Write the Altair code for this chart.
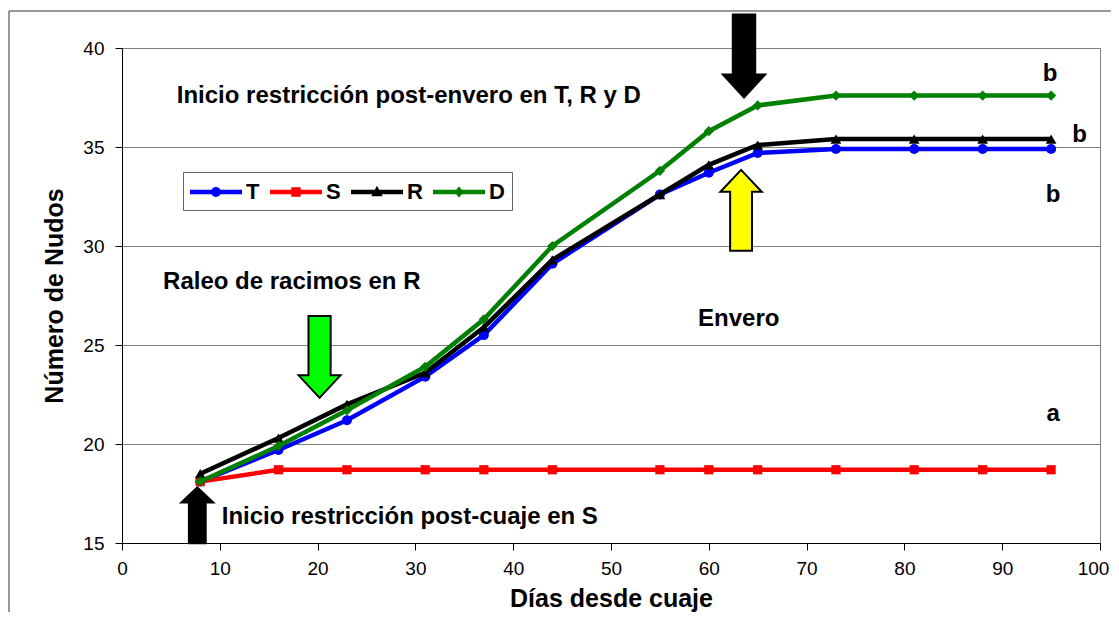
import altair as alt
import pandas as pd

# ---------------- data ----------------
dias = [8, 16, 23, 31, 37, 44, 55, 60, 65, 73, 81, 88, 95]
serie_T = [18.1, 19.7, 21.2, 23.4, 25.5, 29.1, 32.6, 33.7, 34.7, 34.9, 34.9, 34.9, 34.9]
serie_S = [18.1, 18.7, 18.7, 18.7, 18.7, 18.7, 18.7, 18.7, 18.7, 18.7, 18.7, 18.7, 18.7]
serie_R = [18.5, 20.3, 22.0, 23.6, 25.9, 29.3, 32.6, 34.1, 35.1, 35.4, 35.4, 35.4, 35.4]
serie_D = [18.1, 19.9, 21.7, 23.9, 26.3, 30.0, 33.8, 35.8, 37.1, 37.6, 37.6, 37.6, 37.6]

nombres = ["T", "S", "R", "D"]
valores = [serie_T, serie_S, serie_R, serie_D]
colores = ["#0000FF", "#FF0000", "#000000", "#008000"]

# annotations (data coordinates)
ann_text = ["Inicio restricción post-envero en T, R y D", "Raleo de racimos en R",
            "Envero", "Inicio restricción post-cuaje en S"]
ann_x = [5.6, 4.2, 58.9, 10.2]
ann_y = [37.6, 28.2, 26.3, 16.3]

letras = ["b", "b", "b", "a"]
letras_x = [94.9, 97.9, 95.2, 95.2]
letras_y = [38.7, 35.6, 32.6, 21.5]

flecha_x = [63.6, 63.3, 20.2, 7.7]
flecha_y = [39.6, 31.8, 24.4, 16.4]

# ---------------- build ----------------
FONT = "Liberation Sans"
rows = []
for n, vals in zip(nombres, valores):
    for d, v in zip(dias, vals):
        rows.append({"dias": d, "valor": v, "serie": n})
df = pd.DataFrame(rows)

xscale = alt.Scale(domain=[0, 100], nice=False, zero=False)
yscale = alt.Scale(domain=[15, 40], nice=False, zero=False)
xaxis = alt.Axis(title="Días desde cuaje", values=list(range(0, 101, 10)), grid=False,
                 tickSize=7, tickColor="black", domainColor="black", labelFontSize=19,
                 labelPadding=9, titleFontSize=25, titleFontWeight="bold", titlePadding=8,
                 labelFlush=False,
                 labelOffset={"condition": {"test": "datum.value == 100", "value": -7}, "value": 0},
                 labelFont=FONT, titleFont=FONT, labelColor="black", titleColor="black")
yaxis = alt.Axis(title="Número de Nudos", values=list(range(15, 41, 5)), grid=True,
                 gridColor="#808080", gridWidth=1, tickSize=7, tickColor="black",
                 domainColor="black", labelFontSize=19, labelPadding=11, titleFontSize=25,
                 titleFontWeight="bold", titlePadding=15, labelFlush=False, labelFont=FONT,
                 titleFont=FONT, labelColor="black", titleColor="black")


def X(f):
    return alt.X(f, type="quantitative", scale=xscale, axis=xaxis)


def Y(f):
    return alt.Y(f, type="quantitative", scale=yscale, axis=yaxis)


formas = ["circle", "square", "triangle-up", "diamond"]
tamanos = [100, 85, 115, 105]

layers = []
for n, c, f, s in zip(nombres, colores, formas, tamanos):
    sub = df[df["serie"] == n]
    layers.append(alt.Chart(sub).mark_line(color=c, strokeWidth=4.5).encode(x=X("dias"), y=Y("valor")))
    layers.append(alt.Chart(sub).mark_point(shape=f, size=s, filled=True, color=c, opacity=1)
                  .encode(x=X("dias"), y=Y("valor")))

# legend (line + marker symbols); symbol unit = 13 px, drawn 52 px wide
bar = "M -2 -0.17 L 2 -0.17 L 2 0.17 L -2 0.17 Z "
leg_paths = [
    bar + "M -0.38 0 A 0.38 0.38 0 1 1 0.38 0 A 0.38 0.38 0 1 1 -0.38 0 Z",
    bar + "M -0.36 -0.36 L 0.36 -0.36 L 0.36 0.36 L -0.36 0.36 Z",
    bar + "M 0 -0.48 L 0.44 0.32 L -0.44 0.32 Z",
    bar + "M 0 -0.42 L 0.36 0 L 0 0.42 L -0.36 0 Z",
]
leg = alt.Legend(title=None, orient="none", legendX=61, legendY=124, direction="horizontal",
                 columns=4, padding=7, strokeColor="#666666", fillColor="white",
                 labelFont=FONT, labelFontSize=22, labelFontWeight="bold", labelColor="black",
                 symbolSize=676, symbolStrokeWidth=0, symbolOffset=13, labelOffset=17,
                 columnPadding=10)
layers.append(
    alt.Chart(df).transform_filter("datum.dias < 0").mark_point(filled=True, opacity=1).encode(
        x=X("dias"), y=Y("valor"),
        color=alt.Color("serie:N", scale=alt.Scale(domain=nombres, range=colores), legend=leg),
        shape=alt.Shape("serie:N", scale=alt.Scale(domain=nombres, range=leg_paths), legend=leg),
    )
)

# text annotations
ann_df = pd.DataFrame({"x": ann_x, "y": ann_y, "t": ann_text})
layers.append(alt.Chart(ann_df).mark_text(align="left", baseline="middle", fontSize=24,
                                          fontWeight="bold", font=FONT, color="black")
              .encode(x=X("x"), y=Y("y"), text="t:N"))
let_df = pd.DataFrame({"x": letras_x, "y": letras_y, "t": letras})
layers.append(alt.Chart(let_df).mark_text(align="center", baseline="middle", fontSize=24,
                                          fontWeight="bold", font=FONT, color="black")
              .encode(x=X("x"), y=Y("y"), text="t:N"))

# arrows
down = "M -0.27 -1 L 0.27 -1 L 0.27 0.45 L 0.51 0.45 L 0 1 L -0.51 0.45 L -0.27 0.45 Z"
up = "M -0.27 1 L 0.27 1 L 0.27 -0.46 L 0.51 -0.46 L 0 -1 L -0.51 -0.46 L -0.27 -0.46 Z"
up_small = "M -0.30 1 L 0.30 1 L 0.30 -0.46 L 0.57 -0.46 L 0 -1 L -0.57 -0.46 L -0.30 -0.46 Z"
flechas = [(down, 6889, "#000000"), (up, 6561, "#FFFF00"), (down, 6724, "#00FF00"),
           (up_small, 3136, "#000000")]
for (shape, size, fill), fx, fy in zip(flechas, flecha_x, flecha_y):
    fdf = pd.DataFrame({"x": [fx], "y": [fy]})
    layers.append(alt.Chart(fdf).mark_point(shape=shape, size=size, filled=True, fill=fill,
                                            stroke="black", strokeWidth=2, opacity=1)
                  .encode(x=X("x"), y=Y("y")))

# outer frame (chart area border)
frame_df = pd.DataFrame({"k": [0]})
layers.append(alt.Chart(frame_df).mark_rule(color="#333333", strokeWidth=1)
              .encode(x=alt.value(-113), y=alt.value(-37), y2=alt.value(564)))
layers.append(alt.Chart(frame_df).mark_rule(color="#333333", strokeWidth=1)
              .encode(x=alt.value(-113), x2=alt.value(989), y=alt.value(-37)))

chart = alt.layer(*layers).properties(
    width=978, height=495,
    autosize=alt.AutoSizeParams(type="none"),
    padding={"left": 114, "top": 40, "right": 11, "bottom": 69},
    background="white",
).configure_view(stroke="#808080", strokeWidth=1)

chart.save("out.html", embed_options={"renderer": "svg", "actions": False})
